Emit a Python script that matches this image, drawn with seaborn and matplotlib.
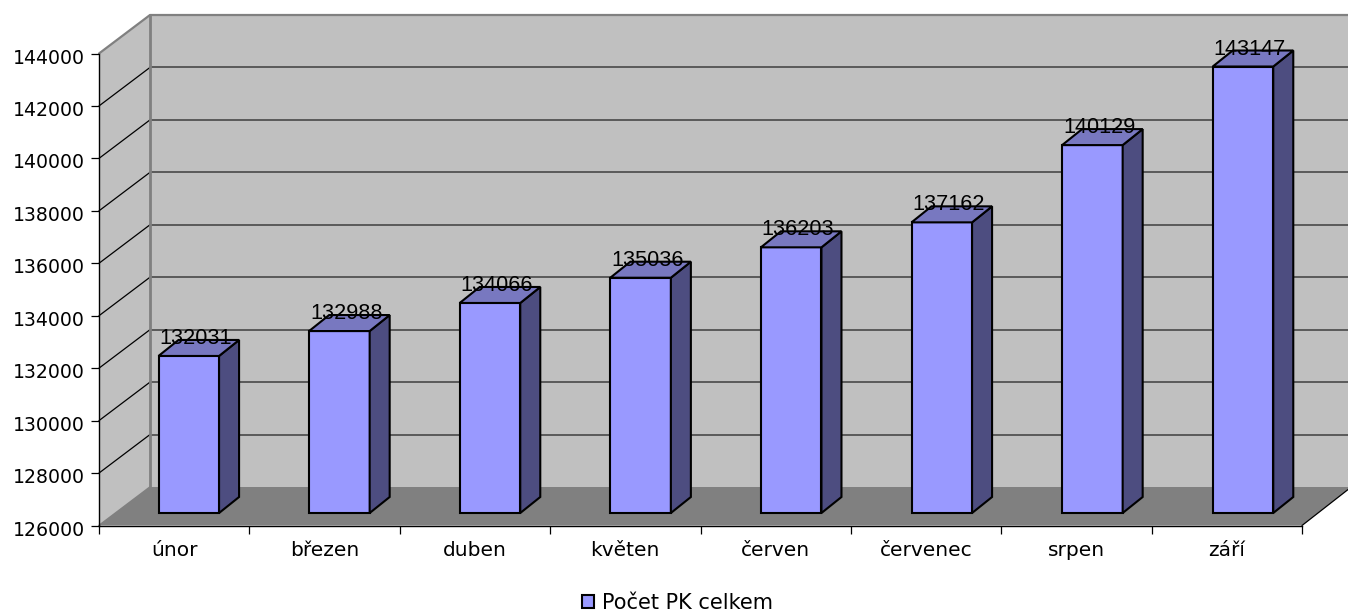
from __future__ import annotations

import matplotlib
matplotlib.use("Agg")
import matplotlib.pyplot as plt
from matplotlib.patches import Polygon
from matplotlib.transforms import IdentityTransform, ScaledTranslation
import seaborn as sns

months = ["únor", "březen", "duben", "květen", "červen", "červenec", "srpen", "září"]
counts = [132031, 132988, 134066, 135036, 136203, 137162, 140129, 143147]
y_ticks = [126000, 128000, 130000, 132000, 134000, 136000, 138000, 140000, 142000, 144000]
series_name = "Počet PK celkem"

W, H = 1348, 613
DEPTH_X, DEPTH_Y = 20, 16


def px_axes(fig, left, top, right, bottom):
    return fig.add_axes([left / W, 1 - bottom / H, (right - left) / W, (bottom - top) / H])


sns.set_theme(style="white", rc={"text.color": "black", "xtick.color": "black", "ytick.color": "black"})
plt.rcParams["font.family"] = ["DejaVu Sans"]

fig = plt.figure(figsize=(W / 100, H / 100), dpi=100, facecolor="white")

# walls and floor, in reference pixels
ax_wall = px_axes(fig, 0, 0, W, H)
ax_wall.set_xlim(0, W)
ax_wall.set_ylim(H, 0)
ax_wall.axis("off")
ax_wall.add_patch(Polygon([(150, 15), (1350, 15), (1350, 487), (150, 487)], fc="#C0C0C0", ec="none"))
ax_wall.add_patch(Polygon([(99, 53.5), (150, 15), (150, 487), (99, 525.5)], fc="#C0C0C0", ec="none"))
ax_wall.add_patch(Polygon([(99, 525.5), (150, 487), (1350, 487), (1350, 488), (1302, 525.5)], fc="#808080", ec="none"))
step = (487 - 15) / (len(y_ticks) - 1)
for i in range(1, len(y_ticks) - 1):
    back_y = 487 - i * step
    front_y = 525.5 - i * (525.5 - 53.5) / (len(y_ticks) - 1)
    ax_wall.plot([150, 1350], [back_y, back_y], color="#5A5A5A", lw=1.4)
    ax_wall.plot([99, 150], [front_y, back_y], color="black", lw=0.9)
ax_wall.plot([99, 150, 1350], [53.5, 15, 15], color="#808080", lw=1.6)
ax_wall.plot([150, 150], [15, 487], color="#808080", lw=2.0)
ax_wall.plot([99, 150], [525.5, 487], color="#808080", lw=1.2)
ax_wall.plot([1302, 1350], [525.5, 488], color="black", lw=0.9)
ax_wall.set_xlim(0, W)

# front plane with the axes
ax = px_axes(fig, 99, 53.5, 1302, 525.5)
ax.set_zorder(1)
ax.patch.set_visible(False)
ax.set_xlim(-0.5, len(months) - 0.5)
ax.set_ylim(y_ticks[0], y_ticks[-1])
ax.set_yticks(y_ticks)
ax.set_yticklabels([str(t) for t in y_ticks], fontsize=13.6)
ax.set_xticks(range(len(months)))
ax.set_xticklabels(months, fontsize=14.5)
ax.set_xticks([i - 0.5 for i in range(len(months) + 1)], minor=True)
ax.tick_params(axis="x", which="major", length=0, pad=11)
ax.tick_params(axis="x", which="minor", length=6, width=0.9, color="black", bottom=True)
ax.tick_params(axis="y", length=6, width=0.9, color="black", pad=4, left=True)
for side in ["top", "right"]:
    ax.spines[side].set_visible(False)
for side in ["left", "bottom"]:
    ax.spines[side].set_color("black")
    ax.spines[side].set_linewidth(1.0)
# the labels sit a little below their ticks in the reference
for label in ax.get_yticklabels():
    label.set_transform(label.get_transform() + ScaledTranslation(0, -2.5 / 100, fig.dpi_scale_trans))

# bars sit on a plane a little behind the front one
ax_bars = px_axes(fig, 113.5, 44.3, 1318.3, 513)
ax_bars.set_zorder(2)
ax_bars.patch.set_visible(False)
sns.barplot(x=months, y=counts, color="#9999FF", saturation=1, width=0.402, edgecolor="black",
            linewidth=1.5, label=series_name, ax=ax_bars)
ax_bars.set_xlim(-0.5, len(months) - 0.5)
ax_bars.set_ylim(y_ticks[0], y_ticks[-1])
ax_bars.set_xticks([])
ax_bars.set_yticks([])
ax_bars.set(xlabel=None, ylabel=None)
sns.despine(ax=ax_bars, left=True, bottom=True)

for bar, value in zip(ax_bars.patches, counts):
    bar.set_y(y_ticks[0])
    bar.set_height(value - y_ticks[0])
    bar.set_clip_on(False)
    x0 = bar.get_x()
    x1 = x0 + bar.get_width()
    (lx, ly), (rx, ry), (_, by) = ax_bars.transData.transform(
        [(x0, value), (x1, value), (x1, y_ticks[0])]
    )
    side = [(rx, ry), (rx + DEPTH_X, ry + DEPTH_Y), (rx + DEPTH_X, by + DEPTH_Y), (rx, by)]
    top = [(lx, ly), (lx + DEPTH_X, ly + DEPTH_Y), (rx + DEPTH_X, ry + DEPTH_Y), (rx, ry)]
    ax_bars.add_patch(Polygon(side, fc="#4D4D80", ec="black", lw=1.5, transform=IdentityTransform(), clip_on=False))
    ax_bars.add_patch(Polygon(top, fc="#7878C0", ec="black", lw=1.5, transform=IdentityTransform(), clip_on=False))
    ax_bars.annotate(str(value), xy=((x0 + x1) / 2, value), xytext=(5, 5), textcoords="offset points",
                     ha="center", va="bottom", fontsize=15.6, family="Liberation Sans", color="black",
                     zorder=6, annotation_clip=False)

ax_bars.legend(loc="center", bbox_to_anchor=(677.5 / W, 1 - 603 / H), bbox_transform=fig.transFigure,
               frameon=False, fontsize=15, borderpad=0, handlelength=0.58, handleheight=0.58,
               handletextpad=0.35)

fig.savefig("out.png", dpi=100, facecolor="white")
